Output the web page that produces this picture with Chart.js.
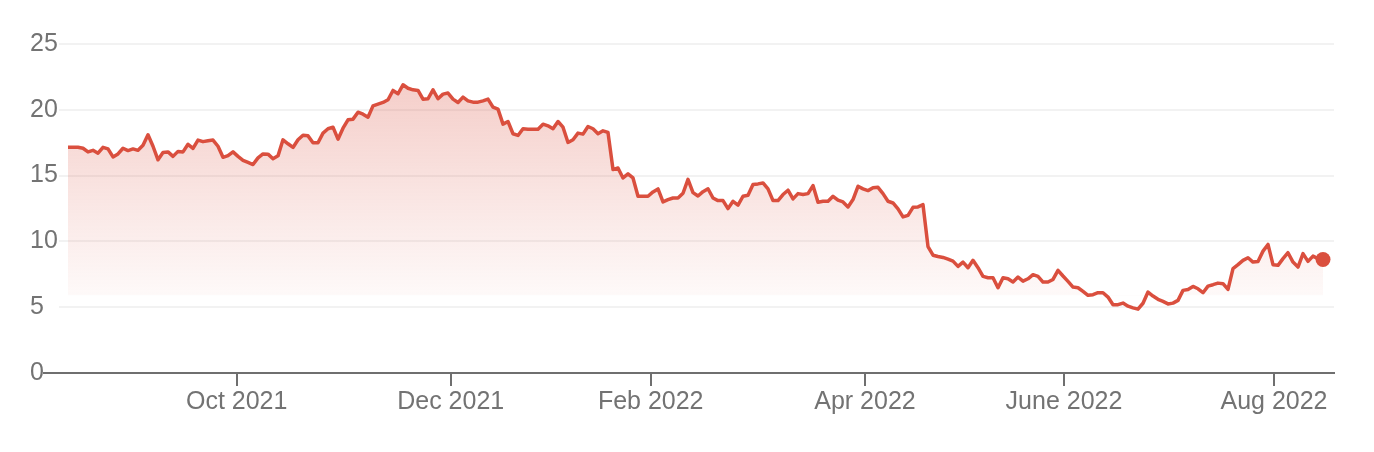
<!DOCTYPE html>
<html>
<head>
<meta charset="utf-8">
<script src="https://cdn.jsdelivr.net/npm/chart.js@4/dist/chart.umd.min.js"></script>
<style>
  html, body { margin: 0; padding: 0; background: #fff; }
  canvas { display: block; }
</style>
</head>
<body>
<canvas id="priceChart" width="1374" height="452"></canvas>
<script>
// daily closing values, Aug 2021 - Aug 2022
const prices = [
  17.15, 17.15, 17.15, 17.08, 16.8, 16.92, 16.7, 17.15, 17.03, 16.42,
  16.65, 17.08, 16.9, 17.03, 16.92, 17.3, 18.1, 17.23, 16.2, 16.76,
  16.8, 16.46, 16.84, 16.8, 17.38, 17.07, 17.7, 17.58, 17.65, 17.7,
  17.23, 16.39, 16.52, 16.8, 16.46, 16.16, 16.0, 15.84, 16.35, 16.65,
  16.63, 16.28, 16.5, 17.72, 17.42, 17.14, 17.72, 18.07, 18.02, 17.5,
  17.5, 18.23, 18.56, 18.68, 17.77, 18.6, 19.24, 19.29, 19.82, 19.67,
  19.44, 20.3, 20.43, 20.56, 20.76, 21.47, 21.22, 21.9, 21.64, 21.52,
  21.47, 20.81, 20.84, 21.52, 20.84, 21.19, 21.27, 20.81, 20.56, 20.96,
  20.68, 20.58, 20.58, 20.68, 20.81, 20.2, 20.05, 18.91, 19.11, 18.18,
  18.05, 18.56, 18.53, 18.53, 18.53, 18.91, 18.78, 18.56, 19.11, 18.68,
  17.52, 17.72, 18.23, 18.15, 18.73, 18.56, 18.18, 18.4, 18.28, 15.46,
  15.58, 14.82, 15.13, 14.82, 13.43, 13.43, 13.43, 13.76, 13.99, 13.0,
  13.17, 13.3, 13.3, 13.66, 14.72, 13.71, 13.45, 13.78, 14.0, 13.3,
  13.1, 13.1, 12.49, 13.05, 12.75, 13.43, 13.5, 14.32, 14.37, 14.44,
  13.99, 13.1, 13.1, 13.56, 13.89, 13.23, 13.63, 13.56, 13.63, 14.24,
  12.97, 13.05, 13.05, 13.43, 13.13, 13.0, 12.62, 13.18, 14.19, 13.99,
  13.86, 14.07, 14.11, 13.63, 13.05, 12.92, 12.47, 11.86, 11.98, 12.59,
  12.62, 12.79, 9.6, 8.95, 8.85, 8.78, 8.65, 8.5, 8.1, 8.43,
  8.0, 8.56, 8.0, 7.34, 7.24, 7.24, 6.48, 7.24, 7.16, 6.91,
  7.29, 6.98, 7.16, 7.47, 7.34, 6.91, 6.91, 7.11, 7.8, 7.37,
  6.96, 6.53, 6.48, 6.2, 5.9, 5.95, 6.1, 6.1, 5.77, 5.19,
  5.19, 5.31, 5.08, 4.95, 4.85, 5.3, 6.15, 5.85, 5.6, 5.44,
  5.25, 5.31, 5.52, 6.28, 6.35, 6.58, 6.4, 6.1, 6.6, 6.71,
  6.83, 6.79, 6.35, 7.93, 8.23, 8.56, 8.76, 8.43, 8.48, 9.26,
  9.77, 8.23, 8.18, 8.69, 9.14, 8.43, 8.05, 9.07, 8.48, 8.88,
  8.69, 8.63
];

// month ticks, as positions in the trading-day index
const tickLabels = ["Oct 2021", "Dec 2021", "Feb 2022", "Apr 2022", "June 2022", "Aug 2022"];
const tickIndex = [33.74, 76.54, 116.54, 159.4, 199.2, 241.2];

const yTicks = [0, 5, 10, 15, 20, 25];
const fillBase = 5.9;

const lineColor = "#da4f3e";
const axisColor = "#6f6f6f";
const textColor = "#737373";
const fontFamily = "'Liberation Sans', Arial, Helvetica, sans-serif";

const points = prices.map((v, i) => ({ x: i, y: v }));
const last = points.length - 1;

// axis line also runs under the y labels a bit
const axisStub = {
  id: "axisStub",
  afterDraw(chart) {
    const { ctx, chartArea } = chart;
    const y = chart.scales.y.getPixelForValue(0);
    ctx.save();
    ctx.strokeStyle = axisColor;
    ctx.lineWidth = 2;
    ctx.beginPath();
    ctx.moveTo(chartArea.left - 16, y);
    ctx.lineTo(chartArea.left, y);
    ctx.stroke();
    ctx.restore();
  }
};

function areaFill(context) {
  const chart = context.chart;
  const { ctx, chartArea } = chart;
  if (!chartArea) return "rgba(218,79,62,0.15)";
  const yScale = chart.scales.y;
  const g = ctx.createLinearGradient(0, yScale.getPixelForValue(22), 0, yScale.getPixelForValue(fillBase));
  g.addColorStop(0, "rgba(218,79,62,0.28)");
  g.addColorStop(1, "rgba(218,79,62,0.03)");
  return g;
}

new Chart(document.getElementById("priceChart"), {
  type: "line",
  data: {
    datasets: [{
      data: points,
      borderColor: lineColor,
      borderWidth: 3.5,
      borderJoinStyle: "round",
      tension: 0,
      fill: { target: { value: fillBase }, above: areaFill, below: "rgba(0,0,0,0)" },
      backgroundColor: areaFill,
      pointRadius: ctx => ctx.dataIndex === last ? 7.5 : 0,
      pointHoverRadius: 0,
      pointBackgroundColor: lineColor,
      pointBorderWidth: 0
    }]
  },
  options: {
    responsive: false,
    animation: false,
    devicePixelRatio: 1,
    layout: { padding: { left: 30, right: 40, top: 44, bottom: 0 } },
    plugins: {
      legend: { display: false },
      tooltip: { enabled: false }
    },
    scales: {
      x: {
        type: "linear",
        min: -1.8,
        max: 253.2,
        afterBuildTicks: scale => { scale.ticks = tickIndex.map(v => ({ value: v })); },
        afterFit: scale => { scale.height = 79; },
        ticks: {
          callback: (v, i) => tickLabels[i],
          color: textColor,
          font: { family: fontFamily, size: 25 },
          padding: 1,
          maxRotation: 0,
          autoSkip: false
        },
        grid: { drawOnChartArea: false, drawTicks: true, tickLength: 13, color: axisColor, lineWidth: 2 },
        border: { display: true, color: axisColor, width: 2 }
      },
      y: {
        min: 0,
        max: 25,
        afterBuildTicks: scale => { scale.ticks = yTicks.map(v => ({ value: v })); },
        afterFit: scale => { scale.width = 29; },
        ticks: {
          color: textColor,
          font: { family: fontFamily, size: 25 },
          crossAlign: "far",
          padding: 0
        },
        grid: { drawTicks: false, color: "#f2f2f2", lineWidth: 2 },
        border: { display: false }
      }
    }
  },
  plugins: [axisStub]
});
</script>
</body>
</html>
